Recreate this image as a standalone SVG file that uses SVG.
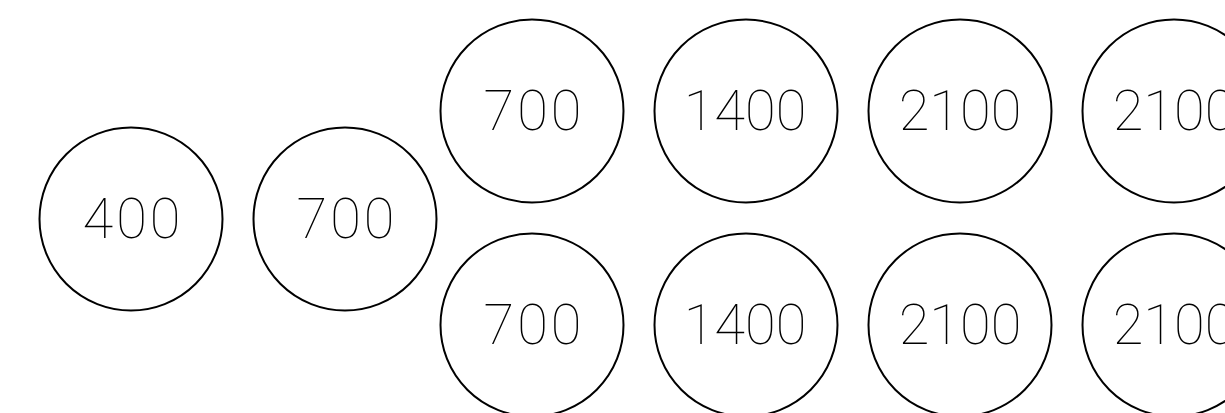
<svg xmlns="http://www.w3.org/2000/svg" width="1225" height="413" viewBox="0 0 1225 413">
<style>
.n circle{fill:#fff;stroke:#000;stroke-width:2}
.n text{font-family:Roboto,"Liberation Sans",sans-serif;font-weight:100;font-size:56px;text-anchor:middle;fill:#000}
.n text.w{letter-spacing:3px}
</style>
<rect width="1225" height="413" fill="#fff"/>
<g id="n400" class="n"><circle cx="131" cy="219" r="91.5"/><text class="w" x="133" y="238">400</text></g>
<g id="n700a" class="n"><circle cx="345" cy="219" r="91.5"/><text class="w" x="347" y="238">700</text></g>
<g id="n700b" class="n"><circle cx="532" cy="111" r="91.5"/><text class="w" x="534" y="130">700</text></g>
<g id="n1400a" class="n"><circle cx="746" cy="111" r="91.5"/><text x="745" y="130">1400</text></g>
<g id="n2100a" class="n"><circle cx="960" cy="111" r="91.5"/><text x="960" y="130">2100</text></g>
<g id="n2100b" class="n"><circle cx="1174" cy="111" r="91.5"/><text x="1174" y="130">2100</text></g>
<g id="n700c" class="n"><circle cx="532" cy="325" r="91.5"/><text class="w" x="534" y="344">700</text></g>
<g id="n1400b" class="n"><circle cx="746" cy="325" r="91.5"/><text x="745" y="344">1400</text></g>
<g id="n2100c" class="n"><circle cx="960" cy="325" r="91.5"/><text x="960" y="344">2100</text></g>
<g id="n2100d" class="n"><circle cx="1174" cy="325" r="91.5"/><text x="1174" y="344">2100</text></g>
<g id="connectors"/>
</svg>
